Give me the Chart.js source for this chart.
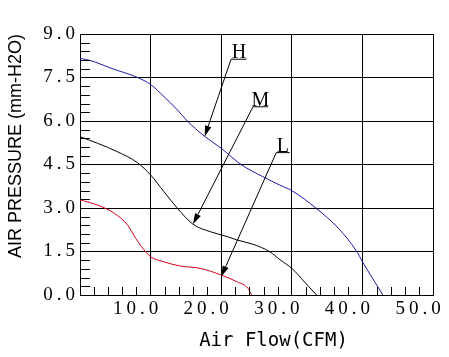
<!DOCTYPE html>
<html>
<head>
<meta charset="utf-8">
<script src="https://cdn.jsdelivr.net/npm/chart.js@4/dist/chart.umd.min.js"></script>
<style>
  html, body { margin: 0; padding: 0; background: #fff; }
  #wrap { width: 449px; height: 357px; position: relative; }
</style>
</head>
<body>
<div id="wrap"><canvas id="c" width="449" height="357"></canvas></div>
<script>
// ---- data ----
const flowH  = [0, 1.55, 4.4, 8.15, 10, 11.9, 13.8, 15.2, 17.6, 20, 22.8, 25.9, 28.3, 30, 33.5, 36.6, 39.2, 40, 42.9];
const pressH = [8.16, 8.08, 7.82, 7.5, 7.26, 6.84, 6.38, 6.0, 5.48, 5.06, 4.5, 4.08, 3.79, 3.6, 2.98, 2.3, 1.5, 1.15, 0];

const flowM  = [0, 2.5, 5.3, 8.15, 10, 11.9, 13.8, 16, 18.5, 20.9, 22.2, 24.5, 26.9, 28.3, 30, 31.8, 33.5];
const pressM = [5.46, 5.23, 4.94, 4.56, 4.14, 3.56, 2.99, 2.44, 2.18, 2.01, 1.9, 1.75, 1.49, 1.22, 0.92, 0.45, 0];

const flowL  = [0, 2.5, 4.85, 6.75, 7.9, 8.7, 10, 11.8, 14.2, 17, 20, 22.2, 23.8, 24.3];
const pressL = [3.28, 3.1, 2.82, 2.41, 1.95, 1.67, 1.32, 1.15, 1.0, 0.92, 0.69, 0.46, 0.23, 0];

const seriesNames = ['H', 'M', 'L'];

const yTickLabels = ['0.0', '1.5', '3.0', '4.5', '6.0', '7.5', '9.0'];
const xTickLabels = ['', '10.0', '20.0', '30.0', '40.0', '50.0'];

// annotation callouts (data coordinates)
const annoText       = ['H', 'M', 'L'];
const annoLineFlow   = [21.4, 24.5, 27.8];   // left end of underline
const annoLinePress  = [8.13, 6.49, 4.91];
const annoLineLen    = [2.2, 2.1, 1.9];      // underline length (flow units)
const annoTipFlow    = [17.65, 16.0, 20.0];
const annoTipPress   = [5.46, 2.44, 0.63];

const yMin = 0, yMax = 9, yStep = 1.5, yMinorStep = 0.3;
const xMin = 0, xMax = 50, xStep = 10, xMinorStep = 2;

function pts(xs, ys) { return xs.map((x, i) => ({ x: x, y: ys[i] })); }

// ---- plugins ----
const scaleTweaks = {
  id: 'scaleTweaks',
  afterLayout(chart) {
    ['x', 'y'].forEach(id => {
      const s = chart.scales[id];
      if (!s || s._tweaked) return;
      s._tweaked = true;
      const origLabels = s.drawLabels.bind(s);
      s.drawLabels = function (area) {
        const c = this.ctx; c.save();
        try { c.letterSpacing = '4px'; } catch (e) {}
        origLabels(area); c.restore();
      };
      if (id === 'x') {
        const origTitle = s.drawTitle.bind(s);
        s.drawTitle = function () {
          const c = this.ctx; c.save(); c.translate(17, 0); origTitle(); c.restore();
        };
      }
    });
  }
};

const minorTicks = {
  id: 'minorTicks',
  afterDraw(chart) {
    const { ctx, scales: { x, y }, chartArea } = chart;
    ctx.save();
    ctx.strokeStyle = '#000';
    ctx.lineWidth = 1;
    ctx.beginPath();
    const ny = Math.round((yMax - yMin) / yMinorStep);
    const per = Math.round(yStep / yMinorStep);
    for (let i = 1; i < ny; i++) {
      if (i % per === 0) continue;
      const py = Math.round(y.getPixelForValue(yMin + i * yMinorStep)) + 0.5;
      ctx.moveTo(chartArea.left, py);
      ctx.lineTo(chartArea.left + 10, py);
    }
    const nx = Math.round((xMax - xMin) / xMinorStep);
    const perx = Math.round(xStep / xMinorStep);
    for (let i = 1; i < nx; i++) {
      if (i % perx === 0) continue;
      const px = Math.round(x.getPixelForValue(xMin + i * xMinorStep)) + 0.5;
      ctx.moveTo(px, chartArea.bottom);
      ctx.lineTo(px, chartArea.bottom - 8);
    }
    ctx.stroke();
    ctx.restore();
  }
};

const callouts = {
  id: 'callouts',
  afterDatasetsDraw(chart) {
    const { ctx, scales: { x, y } } = chart;
    ctx.save();
    ctx.strokeStyle = '#000';
    ctx.fillStyle = '#000';
    ctx.lineWidth = 1;
    ctx.font = '20px "Liberation Serif", "DejaVu Serif", serif';
    ctx.textAlign = 'center';
    ctx.textBaseline = 'alphabetic';
    annoText.forEach((t, i) => {
      const x0 = x.getPixelForValue(annoLineFlow[i]);
      const y0 = y.getPixelForValue(annoLinePress[i]);
      const x1 = x.getPixelForValue(annoLineFlow[i] + annoLineLen[i]);
      const tx = x.getPixelForValue(annoTipFlow[i]);
      const ty = y.getPixelForValue(annoTipPress[i]);
      ctx.beginPath();
      ctx.moveTo(x0, y0); ctx.lineTo(x1, y0);
      ctx.moveTo(x0, y0);
      const dx = tx - x0, dy = ty - y0, L = Math.hypot(dx, dy);
      const ux = dx / L, uy = dy / L;
      const headLen = 11, headW = 3.2;
      ctx.lineTo(tx - ux * headLen, ty - uy * headLen);
      ctx.stroke();
      ctx.beginPath();
      ctx.moveTo(tx, ty);
      ctx.lineTo(tx - ux * headLen - uy * headW, ty - uy * headLen + ux * headW);
      ctx.lineTo(tx - ux * headLen + uy * headW, ty - uy * headLen - ux * headW);
      ctx.closePath();
      ctx.fill();
      ctx.fillText(t, (x0 + x1) / 2, y0 - 1);
    });
    ctx.restore();
  }
};

const lineStyle = { showLine: true, pointRadius: 0, borderWidth: 1, fill: false, cubicInterpolationMode: 'monotone' };

new Chart(document.getElementById('c'), {
  type: 'scatter',
  data: {
    datasets: [
      Object.assign({ label: seriesNames[0], data: pts(flowH, pressH), borderColor: 'rgb(25,25,170)' }, lineStyle),
      Object.assign({ label: seriesNames[1], data: pts(flowM, pressM), borderColor: '#000' }, lineStyle),
      Object.assign({ label: seriesNames[2], data: pts(flowL, pressL), borderColor: 'rgb(215,0,25)' }, lineStyle)
    ]
  },
  options: {
    responsive: false,
    animation: false,
    devicePixelRatio: 1,
    layout: { padding: { left: 0, top: 34, right: 16, bottom: 0 } },
    plugins: {
      legend: { display: false },
      tooltip: { enabled: false },
      title: { display: false }
    },
    scales: {
      x: {
        type: 'linear',
        min: xMin, max: xMax,
        afterFit: s => { s.height = 62; s.paddingLeft = 0; s.paddingRight = 0; },
        afterBuildTicks: s => { s.ticks = xTickLabels.map((_, i) => ({ value: xMin + i * xStep })); },
        ticks: {
          stepSize: xStep,
          autoSkip: false,
          maxRotation: 0,
          padding: 3,
          labelOffset: -13,
          color: '#000',
          font: { family: '"Liberation Serif", "DejaVu Serif", serif', size: 19 },
          callback: (v, i) => xTickLabels[i]
        },
        grid: { color: '#000', lineWidth: 1, drawTicks: false },
        border: { display: true, color: '#000', width: 1 },
        title: {
          display: true,
          text: 'Air Flow(CFM)',
          color: '#000',
          font: { family: '"DejaVu Sans Mono", monospace', size: 19 },
          padding: { top: 0, bottom: 5 }
        }
      },
      y: {
        type: 'linear',
        min: yMin, max: yMax,
        afterFit: s => { s.width = 80; s.paddingTop = 0; s.paddingBottom = 0; },
        afterBuildTicks: s => { s.ticks = yTickLabels.map((_, i) => ({ value: yMin + i * yStep })); },
        ticks: {
          stepSize: yStep,
          autoSkip: false,
          padding: 1,
          color: '#000',
          font: { family: '"Liberation Serif", "DejaVu Serif", serif', size: 19 },
          callback: (v, i) => yTickLabels[i]
        },
        grid: { color: '#000', lineWidth: 1, drawTicks: false },
        border: { display: true, color: '#000', width: 1 },
        title: {
          display: true,
          text: 'AIR PRESSURE (mm-H2O)',
          align: 'end',
          color: '#000',
          font: { family: '"Liberation Sans", Arial, sans-serif', size: 18 },
          padding: { top: 5, bottom: 0 }
        }
      }
    }
  },
  plugins: [scaleTweaks, minorTicks, callouts]
});
</script>
</body>
</html>
